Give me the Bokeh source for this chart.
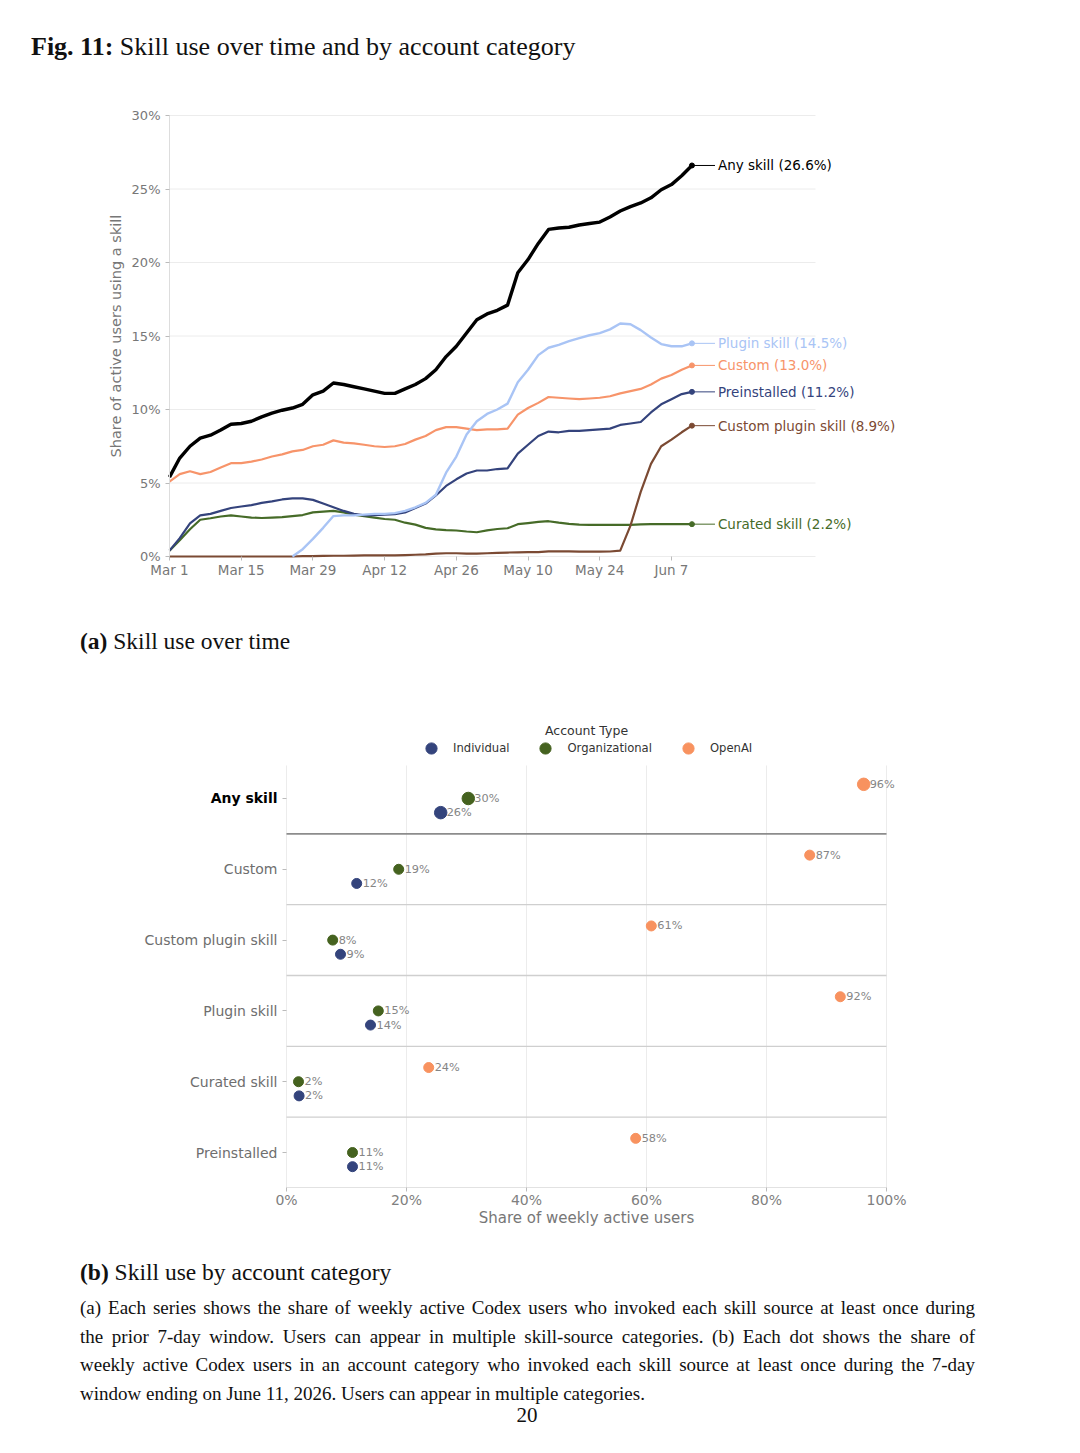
import numpy as np
import pandas as pd
from bokeh.plotting import figure
from bokeh.models import (Range1d, FixedTicker, CustomJSTickFormatter, PrintfTickFormatter,
                          Label, LabelSet, Legend, LegendItem, Div, ColumnDataSource)
from bokeh.layouts import column
from bokeh.embed import file_html
from bokeh.resources import INLINE
from bokeh.core.properties import field, value

# ---------------- data: panel (a) skill use over time ----------------
dates = pd.date_range("2026-03-01", "2026-06-11", freq="2D")

any_skill = [5.4, 6.7, 7.5, 8.05, 8.25, 8.6, 9.0, 9.05, 9.2, 9.5, 9.75, 9.95, 10.1,
             10.35, 11.0, 11.25, 11.8, 11.7, 11.55, 11.4, 11.25, 11.1, 11.1, 11.4, 11.7,
             12.1, 12.7, 13.6, 14.3, 15.2, 16.1, 16.5, 16.75, 17.1, 19.3, 20.2, 21.3,
             22.25, 22.35, 22.4, 22.55, 22.65, 22.75, 23.1, 23.5, 23.8, 24.05, 24.4,
             24.95, 25.3, 25.9, 26.6]
plugin_skill = [np.nan, np.nan, np.nan, np.nan, np.nan, np.nan, np.nan, np.nan, np.nan,
                np.nan, np.nan, np.nan, 0.0,
                0.5, 1.2, 1.95, 2.75, 2.8, 2.8, 2.85, 2.9, 2.9, 2.95, 3.1, 3.35, 3.65,
                4.2, 5.7, 6.8, 8.3, 9.2, 9.7, 10.0, 10.4, 11.85, 12.7, 13.7, 14.2, 14.4,
                14.65, 14.85, 15.05, 15.2, 15.45, 15.85, 15.8, 15.4, 14.9, 14.45, 14.3,
                14.3, 14.5]
custom = [5.1, 5.6, 5.8, 5.6, 5.75, 6.05, 6.35, 6.35, 6.45, 6.6, 6.8, 6.95, 7.15, 7.25,
          7.5, 7.6, 7.9, 7.75, 7.7, 7.6, 7.5, 7.45, 7.5, 7.65, 7.95, 8.2, 8.6, 8.8, 8.8,
          8.7, 8.6, 8.65, 8.65, 8.7, 9.65, 10.1, 10.45, 10.85, 10.8, 10.75, 10.7, 10.75,
          10.8, 10.9, 11.1, 11.25, 11.4, 11.7, 12.1, 12.35, 12.7, 13.0]
preinstalled = [0.4, 1.25, 2.25, 2.8, 2.9, 3.1, 3.3, 3.4, 3.5, 3.65, 3.75, 3.88, 3.95,
                3.95, 3.85, 3.6, 3.35, 3.1, 2.9, 2.8, 2.82, 2.85, 2.88, 3.0, 3.3, 3.6,
                4.15, 4.8, 5.25, 5.65, 5.85, 5.85, 5.95, 6.0, 7.0, 7.6, 8.2, 8.5, 8.45,
                8.55, 8.55, 8.6, 8.65, 8.7, 8.95, 9.05, 9.15, 9.8, 10.35, 10.7, 11.05, 11.2]
custom_plugin_skill = [0.0, 0.0, 0.0, 0.0, 0.0, 0.0, 0.0, 0.0, 0.0, 0.0, 0.0, 0.0, 0.0,
                       0.02, 0.03, 0.04, 0.05, 0.05, 0.06, 0.07, 0.07, 0.08, 0.08, 0.1,
                       0.12, 0.14, 0.2, 0.22, 0.22, 0.2, 0.2, 0.22, 0.25, 0.27, 0.28, 0.3,
                       0.3, 0.35, 0.35, 0.35, 0.33, 0.33, 0.33, 0.34, 0.4, 2.1, 4.4, 6.3,
                       7.5, 7.95, 8.45, 8.9]
curated_skill = [0.4, 1.1, 1.85, 2.5, 2.6, 2.72, 2.8, 2.72, 2.65, 2.62, 2.65, 2.68, 2.75,
                 2.82, 3.0, 3.05, 3.1, 3.0, 2.85, 2.75, 2.65, 2.55, 2.5, 2.3, 2.17, 1.95,
                 1.85, 1.8, 1.77, 1.7, 1.65, 1.78, 1.87, 1.92, 2.2, 2.27, 2.35, 2.4, 2.3,
                 2.22, 2.17, 2.15, 2.15, 2.15, 2.15, 2.15, 2.18, 2.2, 2.2, 2.2, 2.2, 2.2]

x_tick_dates = ["2026-03-01", "2026-03-15", "2026-03-29", "2026-04-12",
                "2026-04-26", "2026-05-10", "2026-05-24", "2026-06-07"]
y_ticks_a = [0, 5, 10, 15, 20, 25, 30]

# ---------------- data: panel (b) skill use by account category ----------------
categories = ["Any skill", "Custom", "Custom plugin skill", "Plugin skill",
              "Curated skill", "Preinstalled"]
individual = [25.7, 11.7, 9.0, 14.0, 2.1, 11.0]
organizational = [30.3, 18.7, 7.7, 15.3, 2.0, 11.0]
openai = [96.2, 87.2, 60.8, 92.3, 23.7, 58.2]
account_types = ["Individual", "Organizational", "OpenAI"]
x_ticks_b = [0, 20, 40, 60, 80, 100]

# ---------------- styles ----------------
FONT = "DejaVu Sans"
SERIF = "'Liberation Serif', 'DejaVu Serif', serif"
W = 1080
BORDER_L, BORDER_R = 100, 8            # same side borders for both figures
line_styles = {
    "Curated skill": ("#466b28", 2.2),
    "Custom plugin skill": ("#7b4a33", 2.2),
    "Preinstalled": ("#34437c", 2.2),
    "Custom": ("#f7946a", 2.2),
    "Plugin skill": ("#a9c4f5", 2.4),
    "Any skill": ("#000000", 3.4),
}
series = [("Curated skill", curated_skill), ("Custom plugin skill", custom_plugin_skill),
          ("Preinstalled", preinstalled), ("Custom", custom),
          ("Plugin skill", plugin_skill), ("Any skill", any_skill)]
type_colors = {"Individual": "#34447c", "Organizational": "#45621f", "OpenAI": "#f8925f"}
type_offsets = {"Individual": -0.2, "Organizational": 0.0, "OpenAI": 0.2}
GRID = "#ececec"

# ================= figure (a) =================
px_per_day = 5.122
px_per_pct = 14.7
a_left = 169                       # pixel position of Mar 1
a_top_pad, a_bottom_pad = 15, 29   # frame padding around 30 % / 0 % (pixels)
x_start = pd.Timestamp("2026-03-01")
grid_end = pd.Timestamp("2026-07-05 03:00")
x_lo_a = x_start - pd.Timedelta(days=(a_left - BORDER_L) / px_per_day)
x_hi_a = x_start + pd.Timedelta(days=(W - BORDER_R - a_left) / px_per_day)
y_lo_a = y_ticks_a[0] - a_bottom_pad / px_per_pct
y_hi_a = y_ticks_a[-1] + a_top_pad / px_per_pct

src = ColumnDataSource(dict(date=dates, **{name: vals for name, vals in series}))
p1 = figure(width=W, height=530, x_axis_type="datetime", output_backend="svg",
            toolbar_location=None,
            x_range=Range1d(x_lo_a, x_hi_a), y_range=Range1d(y_lo_a, y_hi_a),
            min_border_left=BORDER_L, min_border_right=BORDER_R, min_border_top=30,
            min_border_bottom=15)
p1.margin = (0, 0, 0, 0)
p1.outline_line_color = None
p1.xgrid.visible = False
p1.ygrid.visible = False

gsrc = ColumnDataSource(dict(x0=pd.Series([x_start] * len(y_ticks_a)),
                             x1=pd.Series([grid_end] * len(y_ticks_a)),
                             y=y_ticks_a))
p1.segment(x0="x0", x1="x1", y0="y", y1="y", source=gsrc, line_color=GRID,
           line_width=1, level="underlay")

for name, vals in series:
    c, w = line_styles[name]
    p1.line(x="date", y=name, source=src, line_color=c, line_width=w, line_join="round")

end_date = dates[-1]
end_src = ColumnDataSource(dict(
    x=pd.Series([end_date] * len(series)),
    x1=pd.Series([end_date + pd.Timedelta(hours=108)] * len(series)),
    y=[vals[-1] for _, vals in series],
    color=[line_styles[name][0] for name, _ in series],
    text=[f"{name} ({vals[-1]:.1f}%)" for name, vals in series],
))
p1.segment(x0="x", y0="y", x1="x1", y1="y", source=end_src, line_color="color", line_width=1)
p1.scatter(x="x", y="y", source=end_src, size=5, color="color")
p1.add_layout(LabelSet(x="x", y="y", text="text", source=end_src, x_offset=26,
                       text_baseline="middle", text_color=field("color"),
                       text_font_size=value("13.5px"), text_font=value(FONT)))

tick_ms = [pd.Timestamp(d).value / 1e6 for d in x_tick_dates]
p1.xaxis.ticker = FixedTicker(ticks=tick_ms)
p1.xaxis.formatter = CustomJSTickFormatter(code="""
const m = ["Jan","Feb","Mar","Apr","May","Jun","Jul","Aug","Sep","Oct","Nov","Dec"];
const d = new Date(tick);
return m[d.getUTCMonth()] + " " + d.getUTCDate();
""")
p1.xaxis.bounds = (x_start, grid_end)
p1.xaxis.fixed_location = y_ticks_a[0]
p1.yaxis.ticker = FixedTicker(ticks=y_ticks_a)
p1.yaxis.formatter = PrintfTickFormatter(format="%d%%")
p1.yaxis.axis_label = "Share of active users using a skill"
p1.yaxis.fixed_location = x_start.value / 1e6
p1.yaxis.bounds = (y_ticks_a[0], y_ticks_a[-1])
for ax in (p1.xaxis[0], p1.yaxis[0]):
    ax.major_tick_line_color = "#bbbbbb"
    ax.major_tick_out = 4
    ax.major_tick_in = 0
    ax.minor_tick_line_color = None
    ax.major_label_text_font = FONT
    ax.major_label_text_color = "#777777"
    ax.axis_label_text_font = FONT
    ax.axis_label_text_font_size = "14.5px"
    ax.axis_label_text_font_style = "normal"
    ax.axis_label_text_color = "#777777"
p1.xaxis.axis_line_color = None
p1.yaxis.axis_line_color = "#dddddd"
p1.xaxis.major_label_text_font_size = "13.5px"
p1.yaxis.major_label_text_font_size = "13px"
p1.xaxis.major_label_standoff = 1

# ================= figure (b) =================
n = len(categories)
row_y = [n - 1 - i for i in range(n)]
y_lo, y_data_top, y_hi = -0.494, 5.466, 6.172
px_per_unit = 6.0
b_zero = 286                        # pixel position of 0 %
x_lo = -(b_zero - BORDER_L) / px_per_unit
x_hi = (W - BORDER_R - b_zero) / px_per_unit

p2 = figure(width=W, height=535, output_backend="svg", toolbar_location=None,
            x_range=Range1d(x_lo, x_hi), y_range=Range1d(y_lo, y_hi),
            min_border_left=BORDER_L, min_border_right=BORDER_R, min_border_top=10,
            min_border_bottom=53)
p2.margin = (0, 0, 0, 0)
p2.outline_line_color = None
p2.xgrid.visible = False
p2.ygrid.visible = False

# vertical grid lines (data area only)
p2.segment(x0=x_ticks_b, x1=x_ticks_b, y0=[y_lo] * len(x_ticks_b),
           y1=[y_data_top] * len(x_ticks_b), line_color=GRID, line_width=1, level="underlay")
# row separators
sep_y = [ry - 0.5 for ry in row_y[:-1]]
sep_colors = ["#8c8c8c"] + ["#cfcfcf"] * (len(sep_y) - 1)
sep_widths = [1.6] + [1.3] * (len(sep_y) - 1)
p2.segment(x0=[x_ticks_b[0]] * len(sep_y), x1=[x_ticks_b[-1]] * len(sep_y), y0=sep_y,
           y1=sep_y, line_color=sep_colors, line_width=sep_widths, level="underlay")

legend_items = []
for tname, vals in zip(account_types, [individual, organizational, openai]):
    s = ColumnDataSource(dict(
        x=vals,
        y=[ry + type_offsets[tname] for ry in row_y],
        size=[12.5 if c == "Any skill" else 10 for c in categories],
        label=[f"{round(v)}%" for v in vals],
    ))
    r = p2.scatter(x="x", y="y", size="size", source=s, color=type_colors[tname])
    p2.add_layout(LabelSet(x="x", y="y", text="label", source=s, x_offset=6,
                           text_baseline="middle", text_color="#858585",
                           text_font_size=value("11.3px"), text_font=value(FONT)))
    legend_items.append(LegendItem(label=tname, renderers=[r]))

legend = Legend(items=legend_items, orientation="horizontal",
                location=(417 - BORDER_L, 425),
                glyph_width=28, glyph_height=28, label_standoff=8, spacing=22,
                padding=0, margin=0, border_line_color=None, background_fill_alpha=0,
                label_text_font=FONT, label_text_font_size="11.6px",
                label_text_color="#333333")
p2.add_layout(legend)
p2.add_layout(Label(x=(x_ticks_b[0] + x_ticks_b[-1]) / 2, y=row_y[0] + 0.96,
                    text="Account Type", text_align="center", text_baseline="middle",
                    text_font=FONT, text_font_size="12.5px", text_color="#333333"))

p2.xaxis.ticker = FixedTicker(ticks=x_ticks_b)
p2.xaxis.formatter = PrintfTickFormatter(format="%d%%")
p2.xaxis.axis_label = "Share of weekly active users"
p2.xaxis.bounds = (x_ticks_b[0], x_ticks_b[-1])
p2.yaxis.ticker = FixedTicker(ticks=row_y)
p2.yaxis.fixed_location = 0
p2.yaxis.major_label_overrides = {ry: ("" if c == "Any skill" else c)
                                  for ry, c in zip(row_y, categories)}
for ax in (p2.xaxis[0], p2.yaxis[0]):
    ax.major_tick_line_color = "#bbbbbb"
    ax.major_tick_out = 4
    ax.major_tick_in = 0
    ax.minor_tick_line_color = None
    ax.major_label_text_font = FONT
    ax.axis_label_text_font = FONT
    ax.axis_label_text_font_style = "normal"
    ax.axis_label_text_color = "#777777"
p2.xaxis.axis_line_color = "#e2e2e2"
p2.yaxis.axis_line_color = None
p2.xaxis.major_label_text_font_size = "14px"
p2.xaxis.major_label_text_color = "#808080"
p2.xaxis.axis_label_text_font_size = "15px"
p2.xaxis.major_label_standoff = 0
p2.xaxis.axis_label_standoff = -2
p2.yaxis.major_label_text_font_size = "14px"
p2.yaxis.major_label_text_color = "#6e6e6e"
p2.yaxis.major_label_standoff = 5
p2.add_layout(Label(x=0, y=row_y[0], x_offset=-9, text=categories[0], text_align="right",
                    text_baseline="middle", text_font=FONT, text_font_size="14px",
                    text_font_style="bold", text_color="#000000"))

# ================= page texts =================
div_title = Div(width=W, height=70, margin=(0, 0, 0, 0), text=f"""
<div style="position:relative;width:{W}px;height:70px;font-family:{SERIF};color:#111;">
<div style="position:absolute;left:31px;top:34px;font-size:26px;line-height:26px;white-space:nowrap;">
<b>Fig. 11:</b> Skill use over time and by account category</div></div>""")

div_a = Div(width=W, height=105, margin=(0, 0, 0, 0), text=f"""
<div style="position:relative;width:{W}px;height:105px;font-family:{SERIF};color:#111;">
<div style="position:absolute;left:80px;top:29px;font-size:23.5px;line-height:24px;white-space:nowrap;">
<b>(a)</b> Skill use over time</div></div>""")

caption_lines = [
    "(a) Each series shows the share of weekly active Codex users who invoked each skill source at least once during",
    "the prior 7-day window. Users can appear in multiple skill-source categories. (b) Each dot shows the share of",
    "weekly active Codex users in an account category who invoked each skill source at least once during the 7-day",
    "window ending on June 11, 2026. Users can appear in multiple categories.",
]
cap_html = ""
for k, line in enumerate(caption_lines):
    last = k == len(caption_lines) - 1
    align = "text-align:left;" if last else "text-align:justify;text-align-last:justify;"
    cap_html += (f'<div style="position:absolute;left:80px;top:{58 + 28.7 * k:.1f}px;width:895px;'
                 f'font-size:19px;line-height:20px;{align}">{line}</div>')

div_b = Div(width=W, height=213, margin=(0, 0, 0, 0), text=f"""
<div style="position:relative;width:{W}px;height:213px;font-family:{SERIF};color:#111;">
<div style="position:absolute;left:80px;top:20px;font-size:23.5px;line-height:24px;white-space:nowrap;">
<b>(b)</b> Skill use by account category</div>
{cap_html}
<div style="position:absolute;left:477px;top:165px;width:100px;text-align:center;font-size:21px;line-height:21px;">20</div>
</div>""")

layout = column(div_title, p1, div_a, p2, div_b, spacing=0)
open("out.html", "w").write(file_html(layout, INLINE))
